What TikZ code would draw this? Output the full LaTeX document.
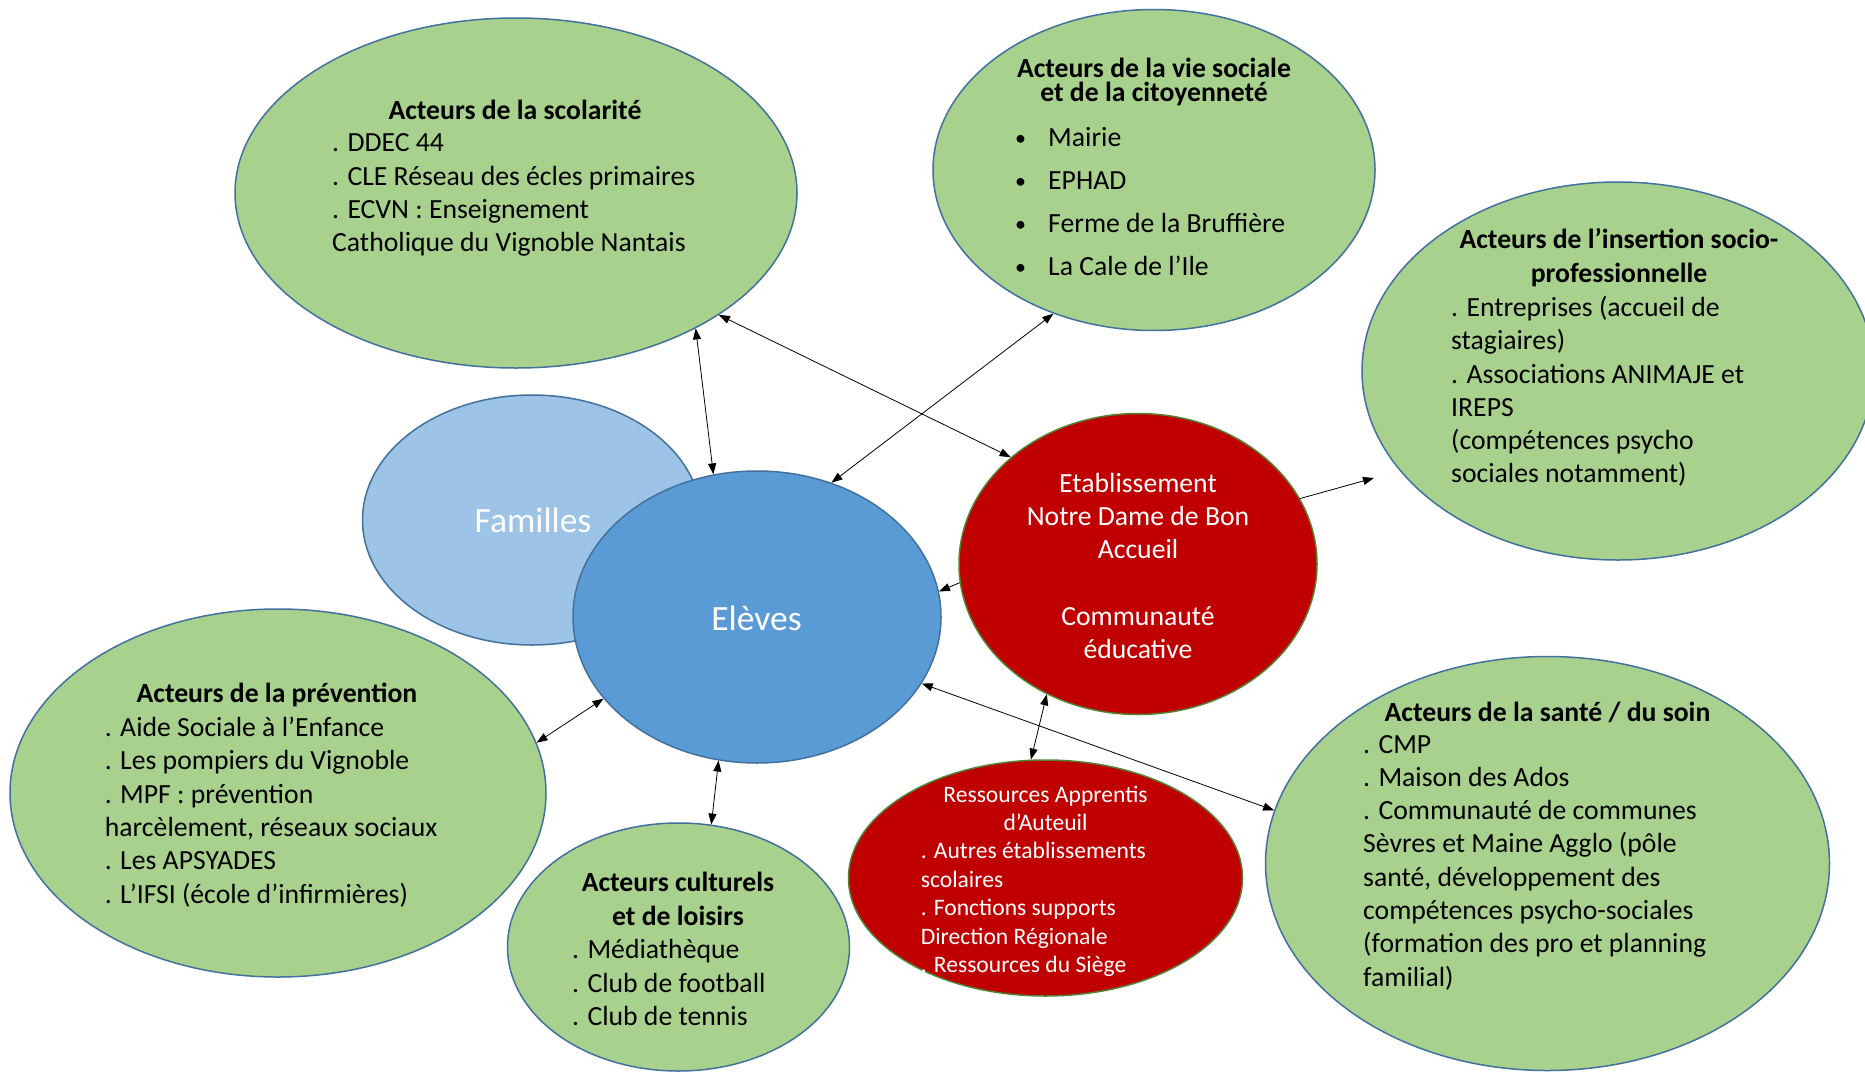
\documentclass[tikz,border=0pt]{standalone}
\usepackage{fontspec}
\setmainfont{Carlito}
\usetikzlibrary{shapes.geometric,arrows.meta}
\definecolor{gfill}{HTML}{A9D18E}
\definecolor{eborder}{HTML}{41719C}
\definecolor{famfill}{HTML}{9DC3E6}
\definecolor{elfill}{HTML}{5B9BD5}
\definecolor{rfill}{HTML}{C00000}
\definecolor{rborder}{HTML}{548235}
\newcommand\bul{\makebox[33pt][l]{\raisebox{1pt}{\fontsize{22}{22}\selectfont\textbullet}}}
\begin{document}
\begin{tikzpicture}[x=1pt,y=-1pt,
  bubble/.style={ellipse,draw=eborder,line width=1.5pt,inner sep=0pt},
  greenb/.style={bubble,fill=gfill},
  redb/.style={ellipse,draw=rborder,line width=1.5pt,inner sep=0pt,fill=rfill},
  txt/.style={inner sep=0pt,font=\fontsize{27.7}{33.3}\selectfont,text=black},
  wtxt/.style={txt,text=white},
  ttl/.style={txt,font=\bfseries\fontsize{27.7}{33.3}\selectfont},
  link/.style={line width=0.8pt,{Triangle[length=11pt,width=8pt]}-{Triangle[length=11pt,width=8pt]}},
  onelink/.style={line width=0.8pt,-{Triangle[length=11pt,width=8pt]}}
]
\useasboundingbox (0,0) rectangle (1865,1073);
\fill[white] (0,0) rectangle (1865,1073);

% ellipses
\node[greenb,minimum width=562pt,minimum height=350pt] (scol) at (516,193) {};
\node[greenb,minimum width=442pt,minimum height=321pt] (vie) at (1154,170) {};
\node[greenb,minimum width=512pt,minimum height=378pt] (ins) at (1618,371) {};
\node[bubble,fill=famfill,minimum width=339pt,minimum height=250pt] (fam) at (532,520) {};
\node[bubble,fill=elfill,minimum width=368pt,minimum height=292pt] (el) at (757,617) {};
\node[redb,minimum width=358pt,minimum height=301pt] (etab) at (1138,564) {};
\node[greenb,minimum width=536pt,minimum height=368pt] (prev) at (278,793) {};
\node[greenb,minimum width=342pt,minimum height=248pt] (cult) at (678.5,947) {};
\node[redb,minimum width=394pt,minimum height=236pt] (res) at (1045.5,878) {};
\node[greenb,minimum width=564pt,minimum height=414pt] (sante) at (1547.5,863.5) {};

% texts
\node[ttl] (scolT) at (515,109.5) {Acteurs de la scolarité};
\node[txt,align=left,anchor=west] (scolB) at (332,195.2) {. DDEC 44\\. CLE Réseau des écles primaires\\. ECVN : Enseignement\\Catholique du Vignoble Nantais};

\node[txt,align=center,font=\bfseries\fontsize{27.7}{24}\selectfont] (vieT) at (1154,81.5) {Acteurs de la vie sociale\\et de la citoyenneté};
\node[txt,align=left,anchor=west,font=\fontsize{27.7}{43.2}\selectfont] (vieB) at (1015,201.5) {\bul Mairie\\\bul EPHAD\\\bul Ferme de la Bruffière\\\bul La Cale de l’Ile};

\node[txt,align=center,font=\bfseries\fontsize{27.7}{33.3}\selectfont] (insT) at (1619,257.5) {Acteurs de l’insertion socio-\\professionnelle};
\node[txt,align=left,anchor=west] (insB) at (1451,391.5) {. Entreprises (accueil de\\stagiaires)\\. Associations ANIMAJE et\\IREPS\\(compétences psycho\\sociales notamment)};

\node[wtxt,font=\fontsize{35.5}{42}\selectfont] (famT) at (533,520) {Familles};
\node[wtxt,font=\fontsize{35.5}{42}\selectfont] (elT) at (756.5,618.5) {Elèves};

\node[wtxt,align=center] (etabT) at (1138,566) {Etablissement\\Notre Dame de Bon\\Accueil\\[33.3pt]Communauté\\éducative};

\node[ttl] (prevT) at (277,694.5) {Acteurs de la prévention};
\node[txt,align=left,anchor=west] (prevB) at (104.7,811.9) {. Aide Sociale à l’Enfance\\. Les pompiers du Vignoble\\. MPF : prévention\\harcèlement, réseaux sociaux\\. Les APSYADES\\. L’IFSI (école d’infirmières)};

\node[txt,align=center,font=\bfseries\fontsize{27.7}{33.3}\selectfont] (cultT) at (678,899) {Acteurs culturels\\et de loisirs};
\node[txt,align=left,anchor=west] (cultB) at (572,982.5) {. Médiathèque\\. Club de football\\. Club de tennis};

\node[wtxt,align=center,font=\fontsize{23.6}{28.5}\selectfont] (resT) at (1045.5,808.6) {Ressources Apprentis\\d’Auteuil};
\node[wtxt,align=left,anchor=west,font=\fontsize{23.6}{28.5}\selectfont] (resB) at (920.6,909.5) {. Autres établissements\\scolaires\\. Fonctions supports\\Direction Régionale\\. Ressources du Siège};

\node[ttl] (santeT) at (1547.5,712) {Acteurs de la santé / du soin};
\node[txt,align=left,anchor=west] (santeB) at (1363,862.5) {. CMP\\. Maison des Ados\\. Communauté de communes\\Sèvres et Maine Agglo (pôle\\santé, développement des\\compétences psycho-sociales\\(formation des pro et planning\\familial)};

% connectors
\coordinate (insEnd) at (1374,478);
\draw[link] (scol.-37.4) -- (el.107.5);
\draw[link] (scol.-31.8) -- (etab.140.1);
\draw[link] (vie.235.9) -- (el.61.7);
\draw[onelink] (etab.22.9) -- (insEnd);
\draw[onelink] (etab.186.1) -- (el.8.8);
\draw[link] (prev.11.8) -- (el.208.6);
\draw[link] (cult.75.8) -- (el.255.1);
\draw[link] (res.97.4) -- (etab.235.5);
\draw[link] (el.-22.1) -- (sante.169.3);
\end{tikzpicture}
\end{document}
